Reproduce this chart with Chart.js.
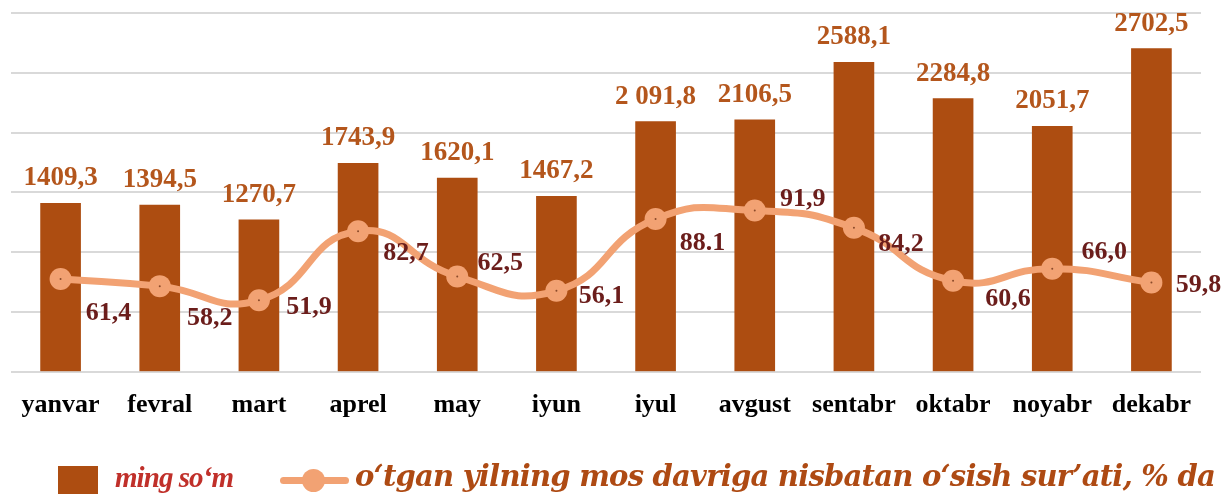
<!DOCTYPE html>
<html>
<head>
<meta charset="utf-8">
<script src="https://cdn.jsdelivr.net/npm/chart.js@4.4.1/dist/chart.umd.min.js"></script>
<style>
  html, body { margin: 0; padding: 0; background: #ffffff; }
  #wrap { position: relative; width: 1226px; height: 494px; overflow: hidden; }
  #c { position: absolute; left: 0; top: 0; }
  .leg { position: absolute; font-style: italic; font-weight: bold; white-space: nowrap; line-height: 1; }
  #sw1 { position: absolute; left: 58px; top: 466px; width: 40px; height: 28px; background: #AD4D11; }
  #sw2line { position: absolute; left: 280px; top: 477px; width: 69px; height: 7px; border-radius: 4px; background: #F2A273; }
  #sw2dot { position: absolute; left: 302px; top: 469px; width: 23px; height: 23px; border-radius: 50%; background: #F2A273; }
  #t1 { left: 115px; top: 463px; color: #C0302A; font-family: "Liberation Serif", serif; font-size: 29px; }
  #t2 { left: 355px; top: 462px; color: #AE4A13; font-family: "DejaVu Serif", serif; font-size: 29px; }
</style>
</head>
<body>
<div id="wrap">
  <canvas id="c" width="1226" height="494"></canvas>
  <div id="sw1"></div>
  <span class="leg" id="t1">ming so‘m</span>
  <div id="sw2line"></div>
  <div id="sw2dot"></div>
  <span class="leg" id="t2">o‘tgan yilning mos davriga nisbatan o‘sish sur’ati, % da</span>
</div>
<script>
const categories = ['yanvar', 'fevral', 'mart', 'aprel', 'may', 'iyun', 'iyul', 'avgust', 'sentabr', 'oktabr', 'noyabr', 'dekabr'];
const barValues = [1409.3, 1394.5, 1270.7, 1743.9, 1620.1, 1467.2, 2091.8, 2106.5, 2588.1, 2284.8, 2051.7, 2702.5];
const barLabels = ['1409,3', '1394,5', '1270,7', '1743,9', '1620,1', '1467,2', '2 091,8', '2106,5', '2588,1', '2284,8', '2051,7', '2702,5'];
const growthValues = [61.4, 58.2, 51.9, 82.7, 62.5, 56.1, 88.1, 91.9, 84.2, 60.6, 66.0, 59.8];
const growthLabels = ['61,4', '58,2', '51,9', '82,7', '62,5', '56,1', '88.1', '91,9', '84,2', '60,6', '66,0', '59,8'];
const legendNames = ['ming so‘m', 'o‘tgan yilning mos davriga nisbatan o‘sish sur’ati, % da'];

// label placement (style only)
const growthLabelDx = [48, 50, 50, 48, 43, 45, 47, 48, 47, 55, 52, 47];
const growthLabelDy = [32, 30, 5, 20, -15, 3, 22, -14, 14, 16, -19, 0];

// fit legend text widths
function fit(id, target) {
  const el = document.getElementById(id);
  const w = el.getBoundingClientRect().width;
  const n = el.textContent.length;
  el.style.letterSpacing = ((target - w) / n) + 'px';
}
fit('t1', 118);
fit('t2', 860);

const labelPlugin = {
  id: 'valueLabels',
  afterDatasetsDraw(chart) {
    const ctx = chart.ctx;
    const barMeta = chart.getDatasetMeta(0);
    const lineMeta = chart.getDatasetMeta(1);
    ctx.save();
    ctx.font = 'bold 27px "Liberation Serif", "Times New Roman", serif';
    ctx.textAlign = 'center';
    ctx.textBaseline = 'alphabetic';
    ctx.fillStyle = '#B4561C';
    barMeta.data.forEach((el, i) => ctx.fillText(barLabels[i], el.x, el.y - 18));
    ctx.font = 'bold 26px "Liberation Serif", "Times New Roman", serif';
    ctx.fillStyle = '#6B1D1B';
    lineMeta.data.forEach((el, i) => ctx.fillText(growthLabels[i], el.x + growthLabelDx[i], el.y + growthLabelDy[i] + 9));
    ctx.fillStyle = '#8A4A2A';
    lineMeta.data.forEach((el) => { ctx.beginPath(); ctx.arc(el.x, el.y, 1, 0, Math.PI * 2); ctx.fill(); });
    ctx.restore();
  }
};

new Chart(document.getElementById('c'), {
  type: 'bar',
  data: {
    labels: categories,
    datasets: [
      {
        type: 'bar',
        label: legendNames[0],
        data: barValues,
        backgroundColor: '#AD4D11',
        barThickness: 40,
        yAxisID: 'y',
        order: 2
      },
      {
        type: 'line',
        label: legendNames[1],
        data: growthValues,
        borderColor: '#F2A273',
        backgroundColor: '#F2A273',
        borderWidth: 7,
        pointRadius: 11,
        pointBorderWidth: 0,
        pointBackgroundColor: '#F2A273',
        tension: 0.5,
        yAxisID: 'y1',
        order: 1
      }
    ]
  },
  options: {
    responsive: false,
    animation: false,
    layout: { padding: { left: 7, right: 25, top: 13, bottom: 55 } },
    plugins: { legend: { display: false }, tooltip: { enabled: false } },
    scales: {
      x: {
        grid: { display: false, drawTicks: false },
        border: { display: false },
        ticks: {
          color: '#000000',
          padding: 18,
          font: { family: '"Liberation Serif", "Times New Roman", serif', size: 26, weight: 'bold' }
        }
      },
      y: {
        position: 'left',
        min: 0,
        max: 3000,
        ticks: { display: false, stepSize: 500 },
        grid: { color: '#D9D9D9', lineWidth: 2, drawTicks: false },
        border: { display: false }
      },
      y1: {
        position: 'right',
        display: false,
        min: 20,
        max: 180,
        grid: { display: false }
      }
    }
  },
  plugins: [labelPlugin]
});
</script>
</body>
</html>
